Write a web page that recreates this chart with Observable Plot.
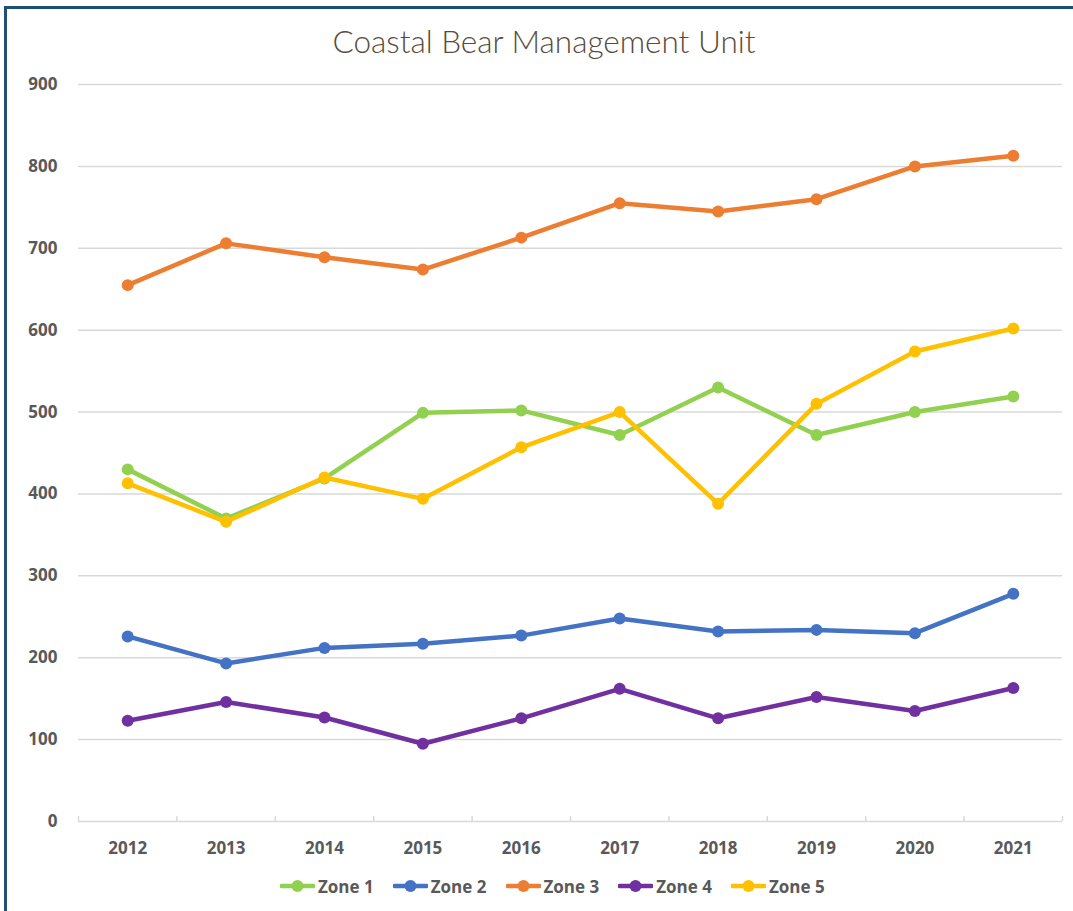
<!DOCTYPE html>
<html><head><meta charset="utf-8">
<script src="https://cdn.jsdelivr.net/npm/d3@7"></script>
<script src="https://cdn.jsdelivr.net/npm/@observablehq/plot@0.6"></script>
<style>
html,body{margin:0;padding:0;background:#fff;width:1073px;height:911px;overflow:hidden;}
#frame{position:absolute;left:4px;top:6px;width:1100px;height:1000px;border-left:3px solid #1F4E79;border-top:3px solid #1F4E79;box-sizing:border-box;}
#title{position:absolute;left:0;top:22.5px;width:1088px;text-align:center;font-family:Lato;font-weight:300;font-size:31.5px;line-height:1.2;color:#574c3c;white-space:nowrap;}
#chart{position:absolute;left:0;top:0;}
#legend{position:absolute;left:280px;top:875px;display:flex;font-family:"Open Sans";font-weight:700;font-size:17px;color:#595959;}
.item{display:flex;align-items:center;width:112.75px;height:22px;}
.item svg{margin-right:3px;}
</style>
</head><body>
<div id="frame"></div>
<div id="title">Coastal Bear Management Unit</div>
<div id="chart"></div>
<div id="legend"></div>
<script>
const years = [2012, 2013, 2014, 2015, 2016, 2017, 2018, 2019, 2020, 2021];
const zones = ["Zone 1", "Zone 2", "Zone 3", "Zone 4", "Zone 5"];
const zone1 = [430, 370, 419, 499, 502, 472, 530, 472, 500, 519];
const zone2 = [226, 193, 212, 217, 227, 248, 232, 234, 230, 278];
const zone3 = [655, 706, 689, 674, 713, 755, 745, 760, 800, 813];
const zone4 = [123, 146, 127, 95, 126, 162, 126, 152, 135, 163];
const zone5 = [413, 366, 420, 394, 457, 500, 388, 510, 574, 602];
const colors = ["#92D050", "#4472C4", "#ED7D31", "#7030A0", "#FFC000"];
const yTicks = [0, 100, 200, 300, 400, 500, 600, 700, 800, 900];

const series = [zone1, zone2, zone3, zone4, zone5];
const data = zones.map((z, i) => years.map((yr, j) => ({zone: z, year: yr, value: series[i][j]})));
const halfYears = [...years.map(y => y - 0.5), years[years.length - 1] + 0.5];

const W = 1073, H = 860, mL = 78, mR = 11, mT = 84, mB = 39;
const grid = "#d9d9d9";

const chart = Plot.plot({
  width: W, height: H,
  marginLeft: mL, marginRight: mR, marginTop: mT, marginBottom: mB,
  style: {fontFamily: "'Open Sans'", fontSize: "17px", fontWeight: "700", color: "#595959", background: "transparent", overflow: "visible"},
  x: {type: "linear", domain: [halfYears[0], halfYears[halfYears.length - 1]]},
  y: {domain: [0, 900]},
  color: {domain: zones, range: colors},
  marks: [
    Plot.gridY(yTicks.filter(d => d > 0), {stroke: grid, strokeOpacity: 1, strokeWidth: 1.5}),
    Plot.ruleY([0], {stroke: grid, strokeWidth: 1.5}),
    Plot.tickX(halfYears, {x: d => d, stroke: grid, strokeWidth: 1.5, insetTop: H - mT - mB - 5}),
    Plot.axisY(yTicks, {tickSize: 0, tickPadding: 21, label: null, fill: "#595959"}),
    Plot.axisX(years, {tickSize: 0, tickPadding: 20, label: null, tickFormat: d => String(d), fill: "#595959"}),
    ...data.flatMap(d => [
      Plot.line(d, {x: "year", y: "value", stroke: "zone", strokeWidth: 4.5, strokeLinejoin: "round", strokeLinecap: "round"}),
      Plot.dot(d, {x: "year", y: "value", fill: "zone", r: 6})
    ])
  ]
});
document.getElementById("chart").appendChild(chart);

const legend = document.getElementById("legend");
zones.forEach((z, i) => {
  const item = document.createElement("div");
  item.className = "item";
  item.innerHTML = `<svg width="35" height="14"><line x1="1.5" y1="7" x2="33.5" y2="7" stroke="${colors[i]}" stroke-width="4.5" stroke-linecap="round"/><circle cx="17.5" cy="7" r="6" fill="${colors[i]}"/></svg><span>${z}</span>`;
  legend.appendChild(item);
});
</script>
</body></html>
